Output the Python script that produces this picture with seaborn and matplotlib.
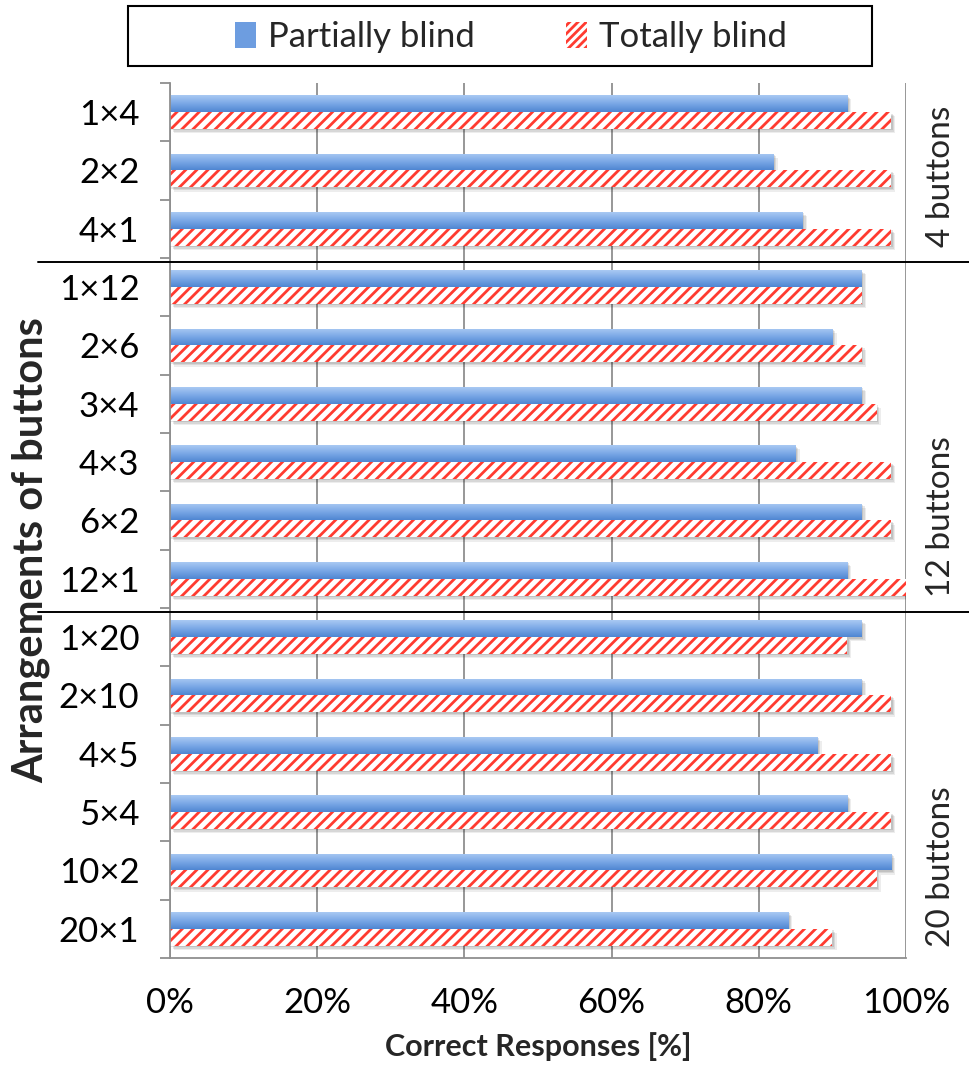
import numpy as np
import pandas as pd
import matplotlib
matplotlib.use("Agg")
import matplotlib.pyplot as plt
import seaborn as sns
from matplotlib.patches import Patch, Rectangle
from matplotlib import transforms
from matplotlib.colors import LinearSegmentedColormap

# ---- data -----------------------------------------------------------------
arrangements = ["1×4", "2×2", "4×1",
                "1×12", "2×6", "3×4", "4×3", "6×2", "12×1",
                "1×20", "2×10", "4×5", "5×4", "10×2", "20×1"]
partially_blind = [92, 82, 86, 94, 90, 94, 85, 94, 92, 94, 94, 88, 92, 98, 84]
totally_blind = [98, 98, 98, 94, 94, 96, 98, 98, 100, 92, 98, 98, 98, 96, 90]
series = ["Partially blind", "Totally blind"]
group_names = ["4 buttons", "12 buttons", "20 buttons"]
group_sizes = [3, 6, 6]
x_ticks = [0, 20, 40, 60, 80, 100]

df = pd.DataFrame({
    "arrangement": arrangements * 2,
    "value": partially_blind + totally_blind,
    "series": [series[0]] * len(arrangements) + [series[1]] * len(arrangements),
})

# ---- style ----------------------------------------------------------------
sns.set_theme(style="white")
plt.rcParams["font.family"] = ["Lato", "DejaVu Sans"]
plt.rcParams["hatch.linewidth"] = 2.0

BLUE = "#6d9de0"
RED = "#ff3b30"
GRID = "#8f8f8f"

fig = plt.figure(figsize=(9.69, 10.65), dpi=100)
ax = fig.add_axes([170 / 969, 1 - 958 / 1065, 736 / 969, 875 / 1065])

sns.barplot(data=df, x="value", y="arrangement", hue="series", orient="h",
            palette=[BLUE, "white"], saturation=1, width=0.58, ax=ax,
            legend=False, order=arrangements, hue_order=series)

ax.set_xlim(0, 100)
ax.set_ylim(len(arrangements) - 0.5, -0.5)

# gradient fill for the blue bars, hatch for the red bars, soft drop shadows
grad = LinearSegmentedColormap.from_list("bluegrad", ["#a9c9f3", "#7aa8e6", "#4f86d2"])
gradient = np.linspace(0, 1, 64).reshape(-1, 1)
for ci, cont in enumerate(ax.containers):
    for p in cont:
        x0, y0, w, h = p.get_x(), p.get_y(), p.get_width(), p.get_height()
        for k, a in ((3, 0.07), (2, 0.09), (1, 0.10)):
            sh = Rectangle((x0, y0), w, h, facecolor="black", edgecolor="none", alpha=a,
                           zorder=1.5,
                           transform=ax.transData + transforms.ScaledTranslation(
                               k / 72, -k / 72, fig.dpi_scale_trans))
            ax.add_patch(sh)
        p.set_zorder(2)
        if ci == 0:
            p.set_edgecolor("none")
            p.set_linewidth(0)
            im = ax.imshow(gradient, cmap=grad, aspect="auto", origin="upper",
                           extent=(x0, x0 + w, y0 + h, y0), zorder=2.1,
                           interpolation="bilinear")
            im.set_clip_path(p)
        else:
            p.set_facecolor("white")
            p.set_edgecolor(RED)
            p.set_linewidth(0)
            p.set_hatch("///")

ax.set_xlim(0, 100)
ax.set_ylim(len(arrangements) - 0.5, -0.5)

# axes, grid and ticks
ax.set_axisbelow(True)
ax.xaxis.grid(True, color=GRID, linewidth=1.3)
ax.yaxis.grid(False)
for s in ("top", "right"):
    ax.spines[s].set_visible(False)
for s in ("left", "bottom"):
    ax.spines[s].set_color(GRID)
    ax.spines[s].set_linewidth(1.3)

ax.set_xticks(x_ticks)
ax.set_xticklabels([f"{t}%" for t in x_ticks])
ax.tick_params(axis="x", direction="out", length=9, width=1.3, color=GRID,
               labelsize=25, pad=12, labelcolor="black")
ax.set_yticks(range(len(arrangements)))
ax.set_yticklabels(arrangements)
ax.set_yticks(np.arange(-0.5, len(arrangements), 1.0), minor=True)
ax.tick_params(axis="y", which="major", length=0, labelsize=25, pad=22,
               labelcolor="black")
ax.tick_params(axis="y", which="minor", direction="out", length=7.5, width=1.3,
               color=GRID, left=True)

ax.set_xlabel("Correct Responses [%]", fontsize=22, fontweight="bold", labelpad=9)
ax.set_ylabel("")
fig.text(31 / 969, 1 - 550 / 1065, "Arrangements of buttons", rotation=90,
         ha="center", va="center", fontsize=30, fontweight="bold")

# group separators and group labels on the right
trans = transforms.blended_transform_factory(ax.transAxes, ax.transData)
start = 0
for gi, (name, size) in enumerate(zip(group_names, group_sizes)):
    end = start + size
    boundary = end - 0.5
    if gi < len(group_names) - 1:
        ax.plot([-0.18, 1.09], [boundary + 0.07, boundary + 0.07], color="black",
                linewidth=1.4, transform=trans, clip_on=False, zorder=5)
    ax.text(1.047, boundary - 0.18, name, rotation=90, ha="center", va="bottom",
            fontsize=24, transform=trans)
    start = end

# legend in a framed box across the top
handles = [Patch(facecolor=BLUE, edgecolor="none"),
           Patch(facecolor="white", edgecolor=RED, hatch="////", linewidth=0)]
fig.legend(handles, series, loc="center", bbox_to_anchor=(511 / 969, 1 - 37 / 1065),
           ncol=2, frameon=False, fontsize=25, handlelength=0.62, handleheight=0.8,
           handletextpad=0.35, columnspacing=2.6)
fig.patches.append(Rectangle((128 / 969, 1 - 66 / 1065), 744 / 969, 60 / 1065,
                             transform=fig.transFigure, facecolor="none",
                             edgecolor="black", linewidth=1.5))

fig.savefig("out.png", dpi=100)
